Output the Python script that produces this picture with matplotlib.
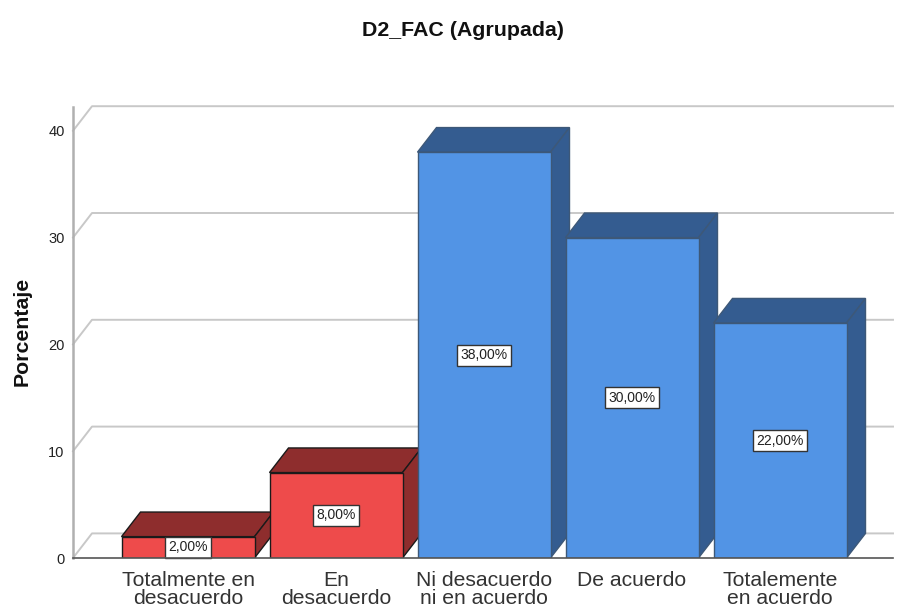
import matplotlib
matplotlib.use("Agg")
from matplotlib import pyplot as plt
from matplotlib.patches import Polygon

plt.rcParams['font.family'] = ['Liberation Sans', 'DejaVu Sans']

# Datos
categorias = ["Totalmente en\ndesacuerdo", "En\ndesacuerdo", "Ni desacuerdo\nni en acuerdo", "De acuerdo", "Totalemente\nen acuerdo"]
porcentajes = [2.0, 8.0, 38.0, 30.0, 22.0]
etiquetas = ["2,00%", "8,00%", "38,00%", "30,00%", "22,00%"]
ticks_y = [0, 10, 20, 30, 40]

# Colores por barra: frente, sombra, borde
rojo = ("#EE4B4B", "#8E2D2D", "#1a1a1a")
azul = ("#5294E5", "#345C90", "#3d5878")
colores = [rojo, rojo, azul, azul, azul]

esc_y = 10.68      # pixeles por unidad
ancho = 133 / 148  # ancho de barra en unidades de categoria
dx = 19 / 148      # profundidad en x
dy = 24.6 / esc_y  # profundidad en y
gris = "#c8c8c8"

W, H = 902, 610
fig = plt.figure(figsize=(W / 100, H / 100), dpi=100)
ax = fig.add_axes([73 / W, (H - 558) / H, (893 - 73) / W, (558 - 107) / H])
ax.set_xlim((73 - 188) / 148, (893 - 188) / 148)
ax.set_ylim(0, (558 - 107) / esc_y)
x0 = ax.get_xlim()[0]
x1 = ax.get_xlim()[1]

# Grade com efeito 3D
for t in ticks_y:
    ax.plot([x0, x0 + dx, x1], [t, t + dy, t + dy], color=gris, lw=1.4, zorder=1, clip_on=False)

# Barras
for i, v in enumerate(porcentajes):
    frente, sombra, borde = colores[i]
    z = 3 + i
    esq = i - ancho / 2
    dir = i + ancho / 2
    topo = Polygon([(esq, v), (esq + dx, v + dy), (dir + dx, v + dy), (dir, v)],
                   facecolor=sombra, edgecolor=borde, lw=1.0, zorder=z)
    lado = Polygon([(dir, 0), (dir + dx, dy), (dir + dx, v + dy), (dir, v)],
                   facecolor=sombra, edgecolor=borde, lw=1.0, zorder=z)
    ax.add_patch(topo)
    ax.add_patch(lado)
    ax.bar(i, v, width=ancho, color=frente, edgecolor=borde, lw=1.0, zorder=z)
    ax.text(i, v / 2, etiquetas[i], ha='center', va='center', fontsize=10, color='#222222', zorder=20,
            bbox=dict(boxstyle='square,pad=0.25', facecolor='white', edgecolor='#333333', lw=1.0))

# Ejes
for lado_eje in ['top', 'right']:
    ax.spines[lado_eje].set_visible(False)
ax.spines['left'].set_color('#b0b0b0')
ax.spines['left'].set_linewidth(1.8)
ax.spines['bottom'].set_color('#555555')
ax.spines['bottom'].set_linewidth(1.2)
ax.spines['bottom'].set_zorder(30)

ax.set_yticks(ticks_y)
ax.tick_params(axis='y', length=0, pad=6, labelsize=10.5, labelcolor='#222222')
ax.set_xticks(range(len(categorias)))
ax.set_xticklabels(categorias, fontsize=15.2, color='#333333', linespacing=1.0)
ax.tick_params(axis='x', length=0, pad=9)

ax.set_ylabel("Porcentaje", fontsize=15.3, fontweight='bold', color='#111111')
ax.yaxis.set_label_coords((32 - 73) / (893 - 73), (558 - 331) / (558 - 107))
fig.text(463 / W, 1 - 30 / H, "D2_FAC (Agrupada)", ha='center', va='center', fontsize=15.4, fontweight='bold', color='#111111')

fig.savefig("out.png", dpi=100)
